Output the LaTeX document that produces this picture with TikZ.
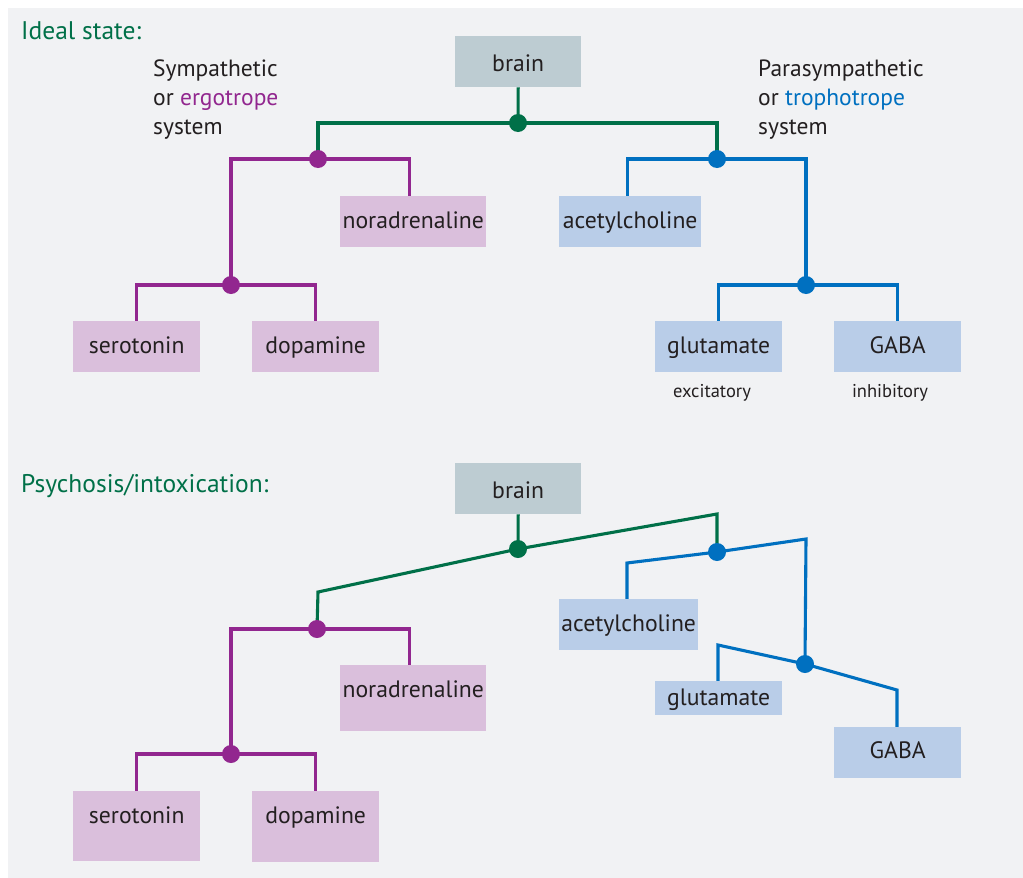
\documentclass[tikz,border=0pt]{standalone}
\usepackage{fontspec}
\setmainfont{PT Sans}
\definecolor{gr}{RGB}{0,112,72}
\definecolor{pu}{RGB}{146,39,143}
\definecolor{bl}{RGB}{0,112,192}
\definecolor{brfill}{RGB}{189,204,210}
\definecolor{pufill}{RGB}{218,191,220}
\definecolor{blfill}{RGB}{185,205,232}
\definecolor{panel}{RGB}{241,242,244}
\definecolor{txt}{RGB}{35,31,32}
\pgfdeclarelayer{panellayer}
\pgfdeclarelayer{linelayer}
\pgfsetlayers{panellayer,linelayer,main}
\begin{document}
\begin{tikzpicture}[x=1pt,y=-1pt,
  box/.style={inner sep=0pt, anchor=north west, align=center, text=txt, font=\fontsize{23.7}{26}\selectfont, minimum width=127pt, text height=32pt, text depth=19pt},
  brbox/.style={box, fill=brfill, minimum width=126pt, text height=35pt, text depth=16pt},
  pubox/.style={box, fill=pufill},
  blbox/.style={box, fill=blfill},
  dotg/.style={circle, fill=gr, inner sep=0pt, minimum size=18pt},
  dotp/.style={circle, fill=pu, inner sep=0pt, minimum size=18pt},
  dotb/.style={circle, fill=bl, inner sep=0pt, minimum size=18pt},
  gline/.style={draw=gr, line width=3.1pt},
  pline/.style={draw=pu, line width=3.1pt},
  bline/.style={draw=bl, line width=3.1pt},
  head/.style={anchor=base west, inner sep=0pt, text=gr, font=\fontsize{25.5}{28}\selectfont},
  lab/.style={anchor=base west, inner sep=0pt, text=txt, font=\fontsize{23.5}{26}\selectfont},
  small/.style={anchor=base, inner sep=0pt, text=txt, font=\fontsize{18.5}{20}\selectfont}
]
\begin{pgfonlayer}{panellayer}
\useasboundingbox (0,0) rectangle (1023,878);
\fill[white] (0,0) rectangle (1023,878);
\fill[panel] (8,8) rectangle (1023,878);
\end{pgfonlayer}

% ---------- Ideal state ----------
\node[head] (h1) at (21,39) {Ideal state:};
\node[lab] (s1) at (153,76) {Sympathetic};
\node[lab] (s2) at (153,105) {or \textcolor{pu}{ergotrope}};
\node[lab] (s3) at (153,134) {system};
\node[lab] (q1) at (758,76) {Parasympathetic};
\node[lab] (q2) at (758,105) {or \textcolor{bl}{trophotrope}};
\node[lab] (q3) at (758,134) {system};

\node[brbox] (brain) at (455,36) {brain};
\node[pubox, minimum width=146pt] (nor) at (340,196) {noradrenaline};
\node[pubox] (sero) at (73,321) {serotonin};
\node[pubox] (dopa) at (252,321) {dopamine};
\node[blbox, minimum width=142pt] (ach) at (559,196) {acetylcholine};
\node[blbox] (glu) at (655,321) {glutamate};
\node[blbox] (gaba) at (834,321) {GABA};
\node[small] (exc) at (712,397) {excitatory};
\node[small] (inh) at (890,397) {inhibitory};

\node[dotg] (g1) at (518,123) {};
\node[dotp] (p1) at (318,159) {};
\node[dotp] (p2) at (231,285) {};
\node[dotb] (b1) at (717,159) {};
\node[dotb] (b2) at (806,285) {};

\begin{pgfonlayer}{linelayer}
\draw[gline] (brain.south) -- (g1.center);
\draw[gline] (g1.center) -| (p1.center);
\draw[gline] (g1.center) -| (b1.center);
\draw[pline] (p1.center) -| (p2.center);
\draw[pline] (p1.center) -| ([xshift=-4pt]nor.north);
\draw[pline] (p2.center) -| (sero.north);
\draw[pline] (p2.center) -| (dopa.north);
\draw[bline] (b1.center) -| ([xshift=-3pt]ach.north);
\draw[bline] (b1.center) -| (b2.center);
\draw[bline] (b2.center) -| (glu.north);
\draw[bline] (b2.center) -| (gaba.north);
\end{pgfonlayer}

% ---------- Psychosis ----------
\node[head] (h2) at (21,492) {Psychosis/intoxication:};
\node[brbox] (brainB) at (455,463) {brain};
\node[pubox, minimum width=146pt, text depth=34pt] (norB) at (340,665) {noradrenaline};
\node[pubox, text depth=38pt] (seroB) at (73,791) {serotonin};
\node[pubox, text depth=39pt] (dopaB) at (252,791) {dopamine};
\node[blbox, minimum width=139pt] (achB) at (559,599) {acetylcholine};
\node[blbox, text height=24pt, text depth=10pt] (gluB) at (655,681) {glutamate};
\node[blbox, text height=31pt, text depth=20pt] (gabaB) at (834,727) {GABA};

\node[dotg] (g2) at (518,549) {};
\node[dotp] (p3) at (317,629) {};
\node[dotp] (p4) at (231,754) {};
\node[dotb] (b3) at (717,552) {};
\node[dotb] (b4) at (805,664) {};

\coordinate (gk1) at (318,592);
\coordinate (gk2) at (717,514);
\coordinate (bk1) at (627,563);
\coordinate (bk2) at (806,539);
\coordinate (bk3) at (718,645);
\coordinate (bk4) at (897,690);

\begin{pgfonlayer}{linelayer}
\draw[gline] (brainB.south) -- (g2.center);
\draw[gline] (p3.center) -- (gk1) -- (g2.center) -- (gk2) -- (b3.center);
\draw[pline] (p3.center) -| (p4.center);
\draw[pline] (p3.center) -| ([xshift=-4pt]norB.north);
\draw[pline] (p4.center) -| (seroB.north);
\draw[pline] (p4.center) -| (dopaB.north);
\draw[bline] (b3.center) -- (bk1) -- (bk1 |- achB.north);
\draw[bline] (b3.center) -- (bk2) -- (b4.center);
\draw[bline] (b4.center) -- (bk3) -- (bk3 |- gluB.north);
\draw[bline] (b4.center) -- (bk4) -- (bk4 |- gabaB.north);
\end{pgfonlayer}
\end{tikzpicture}
\end{document}
